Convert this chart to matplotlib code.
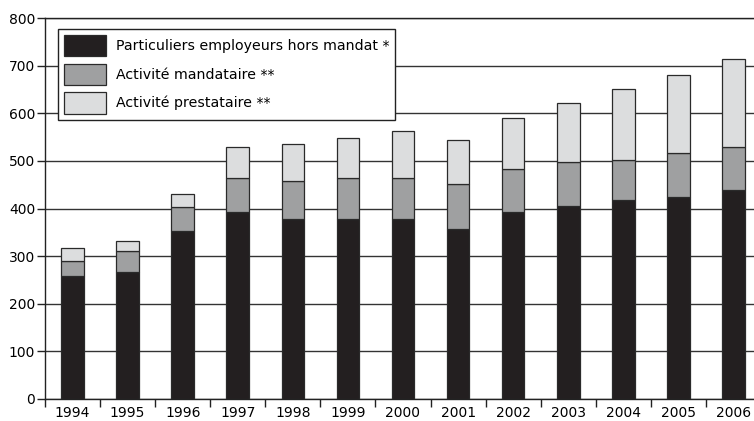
import matplotlib.pyplot as plt
import numpy as np
from matplotlib.legend_handler import HandlerPatch
from matplotlib.patches import Rectangle

plt.rcParams['font.family'] = ['DejaVu Sans']

# Values (thousands)
years = ["1994", "1995", "1996", "1997", "1998", "1999", "2000",
         "2001", "2002", "2003", "2004", "2005", "2006"]
hors_mandat = [259, 266, 352, 392, 378, 378, 378, 358, 392, 405, 418, 425, 438]
mandataire = [31, 45, 51, 71, 79, 85, 85, 93, 91, 92, 84, 91, 92]
prestataire = [28, 20, 28, 67, 79, 86, 100, 92, 106, 125, 148, 165, 183]

labels = ["Particuliers employeurs hors mandat *",
          "Activité mandataire **",
          "Activité prestataire **"]
colors = ["#231f20", "#9fa0a1", "#dcddde"]

fig = plt.figure(figsize=(7.54, 4.21), dpi=100)
ax = fig.add_axes([45 / 754, 22 / 421, 716 / 754, 381 / 421])

x = np.arange(len(years))
b1 = np.array(hors_mandat)
b2 = np.array(mandataire)
b3 = np.array(prestataire)
w = 0.41
ax.bar(x, b1, w, color=colors[0], edgecolor="#2a2a2a", linewidth=0.9, label=labels[0], zorder=3)
ax.bar(x, b2, w, bottom=b1, color=colors[1], edgecolor="#2a2a2a", linewidth=0.9, label=labels[1], zorder=3)
ax.bar(x, b3, w, bottom=b1 + b2, color=colors[2], edgecolor="#2a2a2a", linewidth=0.9, label=labels[2], zorder=3)

ax.set_xlim(-0.5, len(years) - 0.5)
ax.set_ylim(0, 800)
ax.set_yticks(range(0, 801, 100))
ax.yaxis.grid(True, color="#333333", linewidth=1)
ax.set_axisbelow(True)

ax.set_xticks(x)
ax.set_xticklabels(years)
ax.set_xticks(np.arange(-0.5, len(years), 1), minor=True)
ax.tick_params(axis="x", which="major", length=0, pad=5, labelsize=10)
ax.tick_params(axis="x", which="minor", length=6, width=1, direction="out", color="#222222")
ax.tick_params(axis="y", length=6, width=1, labelsize=10, pad=1, color="#222222")

ax.spines["right"].set_visible(False)
for s in ["left", "bottom", "top"]:
    ax.spines[s].set_color("#222222")
    ax.spines[s].set_linewidth(1)

fs = 10.2
px = fs * 100 / 72
hmap = {Rectangle: HandlerPatch(xpad=4 / px)}
leg = ax.legend(loc="upper left", bbox_to_anchor=(58 / 754, 1 - 29 / 421),
                bbox_transform=fig.transFigure, borderaxespad=0,
                fancybox=False, framealpha=1, edgecolor="#222222",
                fontsize=fs, handlelength=42 / px, handleheight=1.96,
                handletextpad=10 / px, labelspacing=0.5, borderpad=0.42,
                handler_map=hmap)
leg.get_frame().set_linewidth(1)

fig.savefig("out.png", dpi=100)
